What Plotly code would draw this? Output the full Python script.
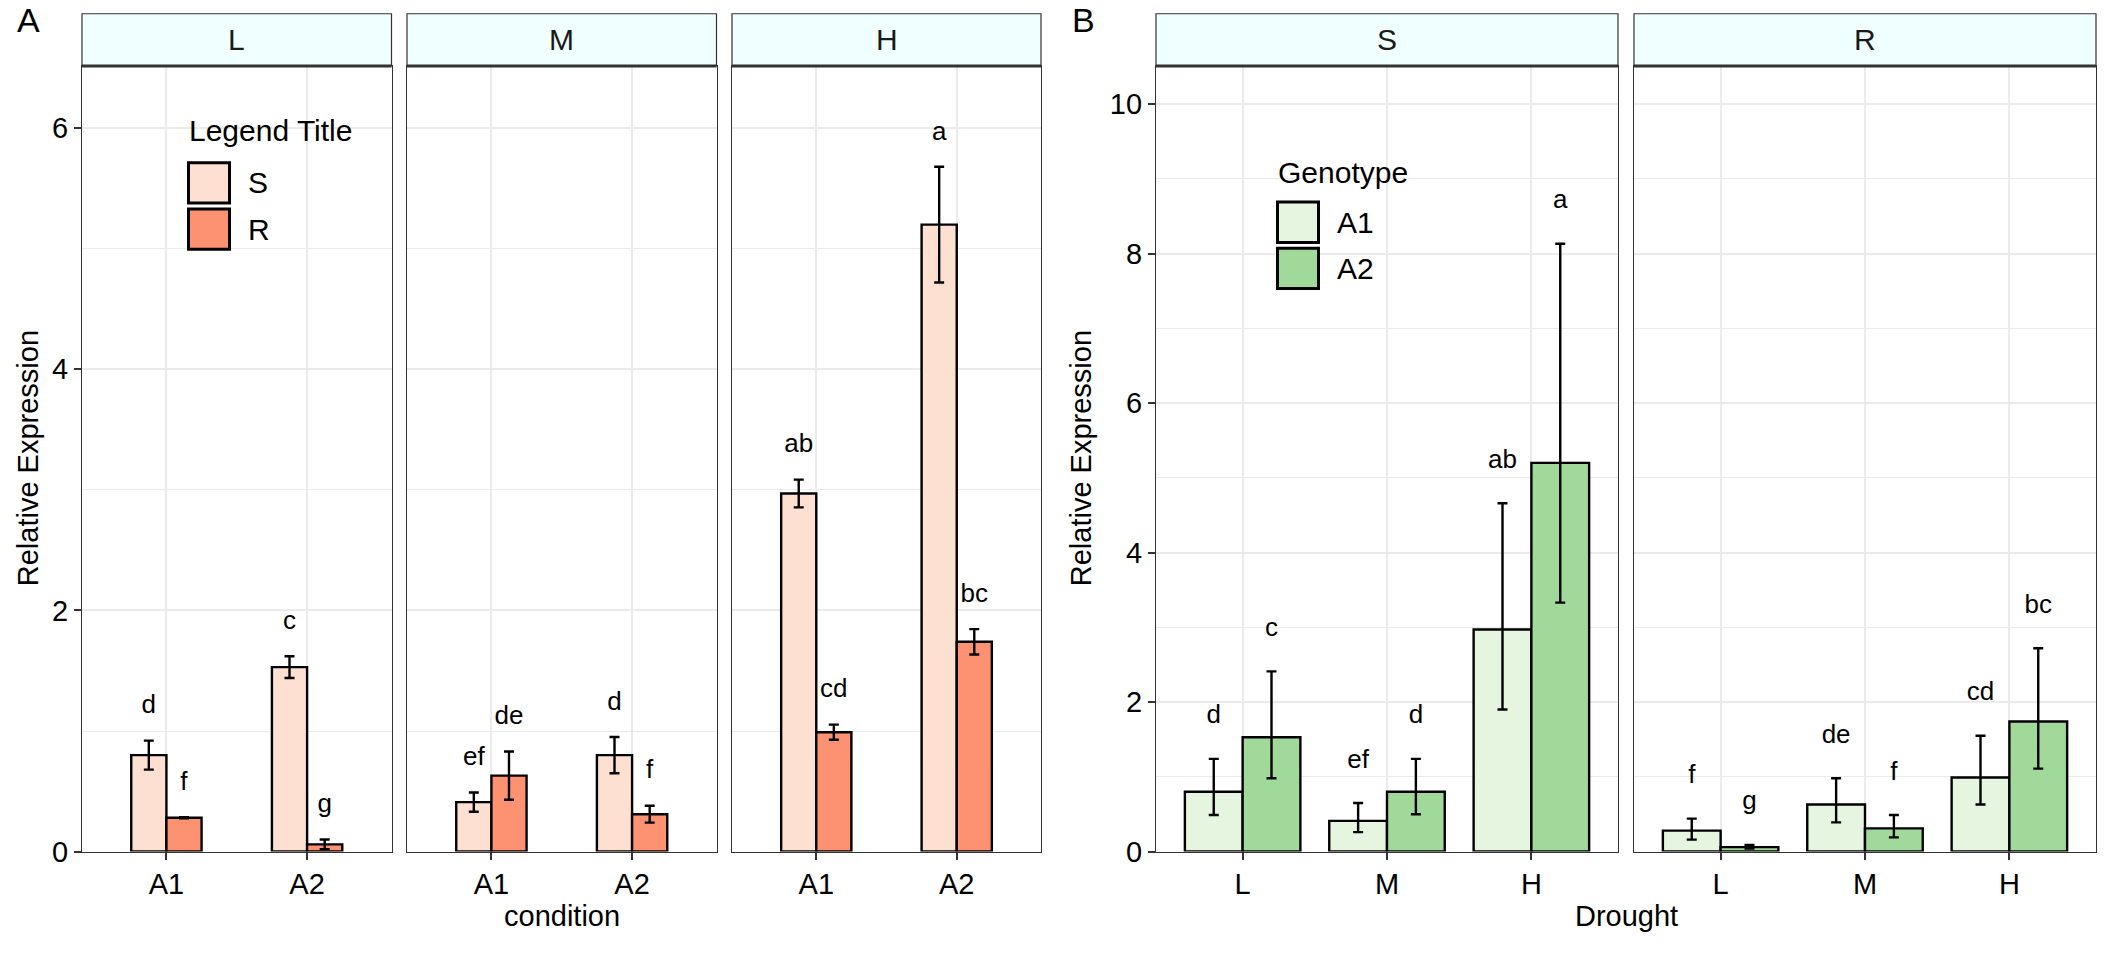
import plotly.graph_objects as go

W, H = 2112, 960

# ---------------- data ----------------
facets_a = ["L", "M", "H"]            # drought level facets (panel A)
conditions = ["A1", "A2"]             # x categories in panel A / genotypes in B
groups = ["S", "R"]                   # fill groups in panel A / facets in B
colors_a = ["#FEE0D2", "#FC9272"]
colors_b = ["#E5F5E0", "#A1D99B"]

# means, ordered facet-major: L-A1, L-A2, M-A1, M-A2, H-A1, H-A2
S_mean = [0.80, 1.53, 0.41, 0.80, 2.97, 5.20]
R_mean = [0.28, 0.06, 0.63, 0.31, 0.99, 1.74]
# panel A symmetric error
S_err_a = [0.12, 0.09, 0.08, 0.15, 0.115, 0.48]
R_err_a = [0.005, 0.04, 0.20, 0.07, 0.063, 0.105]
# panel B error bar ends
S_upper_b = [1.24, 2.41, 0.65, 1.24, 4.66, 8.13]
S_lower_b = [0.49, 0.98, 0.26, 0.50, 1.90, 3.33]
R_upper_b = [0.44, 0.09, 0.98, 0.49, 1.55, 2.72]
R_lower_b = [0.16, 0.04, 0.39, 0.19, 0.63, 1.11]
S_letters = ["d", "c", "ef", "d", "ab", "a"]
R_letters = ["f", "g", "de", "f", "cd", "bc"]

drought = ["L", "M", "H"]
y_ticks_a = [0, 2, 4, 6]
y_ticks_b = [0, 2, 4, 6, 8, 10]

FONT = "Liberation Sans, Arial, sans-serif"

def px(x):
    return x / W

def py(y):
    return 1 - y / H

fig = go.Figure()

# panel geometry (pixels)
top_px, bot_px = 67, 866
a_doms = [(82, 391.5), (407, 716.5), (732, 1041)]
b_doms = [(1156, 1618), (1634, 2096)]

grid = "#EBEBEB"
border = "#333333"

def xaxis_cfg(dom, tickvals, ticktext, rng):
    return dict(domain=[px(dom[0]), px(dom[1])], range=rng, tickmode="array",
                tickvals=tickvals, ticktext=ticktext, showgrid=True,
                gridcolor=grid, gridwidth=2.2, zeroline=False, showline=True,
                mirror=True, linecolor=border, linewidth=1.2, ticks="outside",
                ticklen=7, tickwidth=1.5, tickcolor=border,
                tickfont=dict(family=FONT, size=29, color="black"), fixedrange=True)

def yaxis_cfg(anchor, rng, tickvals, show_labels, match=None):
    d = dict(domain=[py(bot_px), py(top_px)], range=rng, anchor=anchor,
             tickmode="array", tickvals=tickvals, showgrid=True, gridcolor=grid,
             gridwidth=2.2, zeroline=False, showline=True, mirror=True,
             linecolor=border, linewidth=1.2,
             ticks="outside" if show_labels else "", ticklen=7, tickwidth=1.5,
             tickcolor=border, showticklabels=show_labels,
             tickfont=dict(family=FONT, size=29, color="black"),
             minor=dict(tickmode="linear", tick0=1, dtick=2, showgrid=True,
                        gridcolor=grid, gridwidth=1.1, ticks=""),
             fixedrange=True)
    if match:
        d["matches"] = match
    return d

layout = dict(width=W, height=H, margin=dict(l=0, r=0, t=0, b=0),
              plot_bgcolor="white", paper_bgcolor="white", showlegend=False,
              barmode="overlay", font=dict(family=FONT, color="black"))

# panel A: 3 facets (L/M/H), x = condition, fill = S/R
A_YMAX = 6.517
half_a = 0.125
for f, fac in enumerate(facets_a):
    ax = f + 1
    xa = "x" if ax == 1 else f"x{ax}"
    ya = "y" if ax == 1 else f"y{ax}"
    layout["xaxis" if ax == 1 else f"xaxis{ax}"] = xaxis_cfg(
        a_doms[f], list(range(len(conditions))), conditions, [-0.6, 1.6])
    layout["xaxis" if ax == 1 else f"xaxis{ax}"]["anchor"] = ya
    layout["yaxis" if ax == 1 else f"yaxis{ax}"] = yaxis_cfg(
        xa, [0, A_YMAX], y_ticks_a, ax == 1, None if ax == 1 else "y")
    for g, (grp, means, errs, letters) in enumerate(
            [("S", S_mean, S_err_a, S_letters), ("R", R_mean, R_err_a, R_letters)]):
        sl = slice(f * 2, f * 2 + 2)
        xs = [i + (2 * g - 1) * half_a for i in range(len(conditions))]
        m = means[sl]
        e = errs[sl]
        fig.add_trace(go.Bar(x=xs, y=m, width=0.25, xaxis=xa, yaxis=ya, name=grp,
                             marker=dict(color=colors_a[g], line=dict(color="black", width=2.4)),
                             error_y=dict(type="data", array=e, color="black",
                                          thickness=2.4, width=5)))
        fig.add_trace(go.Scatter(x=xs, y=[mv + ev + 0.28 for mv, ev in zip(m, e)],
                                 text=letters[sl], mode="text", xaxis=xa, yaxis=ya,
                                 textfont=dict(family=FONT, size=26, color="black"),
                                 hoverinfo="skip"))

# panel B: 2 facets (S/R), x = drought, fill = genotype
B_YMAX = 10.51
half_b = 0.2
b_sets = [
    (S_mean, S_upper_b, S_lower_b, S_letters),
    (R_mean, R_upper_b, R_lower_b, R_letters),
]
for f, grp in enumerate(groups):
    ax = f + 4
    xa, ya = f"x{ax}", f"y{ax}"
    layout[f"xaxis{ax}"] = xaxis_cfg(b_doms[f], list(range(len(drought))), drought, [-0.6, 2.6])
    layout[f"xaxis{ax}"]["anchor"] = ya
    layout[f"yaxis{ax}"] = yaxis_cfg(xa, [0, B_YMAX], y_ticks_b, ax == 4,
                                      None if ax == 4 else "y4")
    means, ups, lows, letters = b_sets[f]
    for g, geno in enumerate(conditions):
        idx = [d * 2 + g for d in range(len(drought))]
        xs = [d + (2 * g - 1) * half_b for d in range(len(drought))]
        m = [means[i] for i in idx]
        up = [ups[i] - means[i] for i in idx]
        lo = [means[i] - lows[i] for i in idx]
        fig.add_trace(go.Bar(x=xs, y=m, width=0.4, xaxis=xa, yaxis=ya, name=geno,
                             marker=dict(color=colors_b[g], line=dict(color="black", width=2.4)),
                             error_y=dict(type="data", symmetric=False, array=up,
                                          arrayminus=lo, color="black", thickness=2.4, width=5)))
        fig.add_trace(go.Scatter(x=xs, y=[ups[i] + 0.56 for i in idx],
                                 text=[letters[i] for i in idx], mode="text",
                                 xaxis=xa, yaxis=ya,
                                 textfont=dict(family=FONT, size=26, color="black"),
                                 hoverinfo="skip"))

fig.update_layout(**layout)

shapes = []
annotations = []
# strips
strip_top = 14
for dom, lab in list(zip(a_doms, facets_a)) + list(zip(b_doms, groups)):
    shapes.append(dict(type="rect", xref="paper", yref="paper",
                       x0=px(dom[0]), x1=px(dom[1]), y0=py(top_px), y1=py(strip_top),
                       fillcolor="#F0FFFF", line=dict(color=border, width=1.2), layer="above"))
    shapes.append(dict(type="line", xref="paper", yref="paper",
                       x0=px(dom[0]), x1=px(dom[1]), y0=py(top_px), y1=py(top_px),
                       line=dict(color=border, width=3), layer="above"))
    annotations.append(dict(text=lab, xref="paper", yref="paper",
                            x=px((dom[0] + dom[1]) / 2), y=py((strip_top + top_px) / 2),
                            showarrow=False, xanchor="center", yanchor="middle",
                            font=dict(family=FONT, size=30, color="#1A1A1A")))

# axis titles
for x, y, t, ang in [(28, 466, "Relative Expression", -90),
                     (1081, 466, "Relative Expression", -90),
                     (562, 932, "condition", 0),
                     (1626, 932, "Drought", 0)]:
    annotations.append(dict(text=t, xref="paper", yref="paper", x=px(x), y=py(y),
                            showarrow=False, xanchor="center", yanchor="middle",
                            textangle=ang, font=dict(family=FONT, size=29, color="black")))

# tags
for x, t in [(28.5, "A"), (1083.5, "B")]:
    annotations.append(dict(text=t, xref="paper", yref="paper", x=px(x), y=py(20),
                            showarrow=False, xanchor="center", yanchor="middle",
                            font=dict(family=FONT, size=34, color="black")))

# legends (drawn inside panels)
def legend(x0, title_y, key_top, key_size, gap, title, labels, cols):
    annotations.append(dict(text=title, xref="paper", yref="paper", x=px(x0), y=py(title_y),
                            showarrow=False, xanchor="left", yanchor="middle",
                            font=dict(family=FONT, size=30, color="black")))
    for k, (lab, col) in enumerate(zip(labels, cols)):
        t = key_top + k * (key_size + gap)
        shapes.append(dict(type="rect", xref="paper", yref="paper",
                           x0=px(x0 + 1.5), x1=px(x0 + key_size - 1.5),
                           y0=py(t + key_size - 1.5), y1=py(t + 1.5),
                           fillcolor=col, line=dict(color="black", width=3), layer="above"))
        annotations.append(dict(text=lab, xref="paper", yref="paper",
                                x=px(x0 + key_size + 15), y=py(t + key_size / 2),
                                showarrow=False, xanchor="left", yanchor="middle",
                                font=dict(family=FONT, size=30, color="black")))

legend(187, 133, 164, 44, 3, "Legend Title", groups, colors_a)
legend(1276, 175, 204, 44, 3, "Genotype", conditions, colors_b)

fig.update_layout(shapes=shapes, annotations=annotations)
fig.write_html(
    "out.html",
    config={"displayModeBar": False},
    post_script=(
        "document.body.style.margin='0px';"
        "document.body.style.overflow='hidden';"
        "document.documentElement.style.overflow='hidden';"
    ),
)
